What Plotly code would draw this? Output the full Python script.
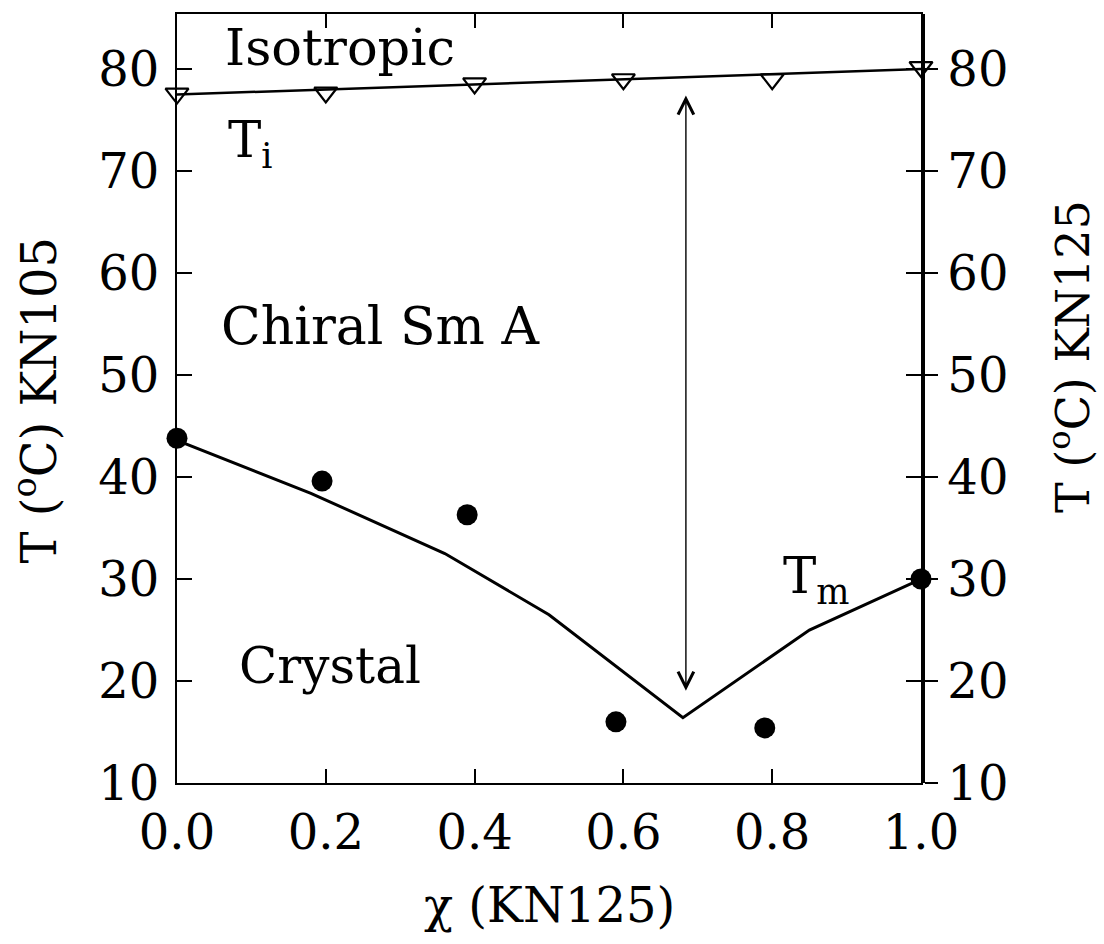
import plotly.graph_objects as go

# Composition axis (mole fraction of KN125) and tick labels
x_ticks = [0.0, 0.2, 0.4, 0.6, 0.8, 1.0]
x_tick_text = ["0.0", "0.2", "0.4", "0.6", "0.8", "1.0"]
y_ticks = [10, 20, 30, 40, 50, 60, 70, 80]
y_tick_text = ["10", "20", "30", "40", "50", "60", "70", "80"]

# Isotropic transition temperatures T_i (open triangles) and their line
x_ti = [0.0, 0.2, 0.4, 0.6, 0.8, 1.0]
t_ti = [77.6, 77.7, 78.6, 79.0, 79.0, 80.2]
x_ti_line = [0.0, 1.0]
t_ti_line = [77.5, 80.0]

# Melting temperatures T_m (filled circles) and the liquidus curve
x_tm = [0.0, 0.195, 0.39, 0.59, 0.79, 1.0]
t_tm = [43.8, 39.6, 36.3, 16.0, 15.4, 30.0]
x_tm_curve = [0.0, 0.18, 0.36, 0.50, 0.68, 0.85, 1.0]
t_tm_curve = [43.6, 38.4, 32.5, 26.5, 16.4, 25.0, 30.0]

# Double-headed arrow marking the eutectic composition range
arrow_x = 0.684
arrow_t = [18.9, 77.4]

Y_RANGE = [10, 85.4]
FONT = "DejaVu Serif"
INK = "black"

fig = go.Figure()

fig.add_trace(go.Scatter(
    x=x_ti_line, y=t_ti_line, mode="lines",
    line=dict(color=INK, width=2.5), yaxis="y2",
    cliponaxis=False, showlegend=False, hoverinfo="skip"))
fig.add_trace(go.Scatter(
    x=x_ti, y=t_ti, mode="markers",
    marker=dict(symbol="triangle-down-open", size=20, color=INK,
                line=dict(width=2.2, color=INK)),
    cliponaxis=False, showlegend=False))
fig.add_trace(go.Scatter(
    x=x_tm_curve, y=t_tm_curve, mode="lines",
    line=dict(color=INK, width=3),
    cliponaxis=False, showlegend=False, hoverinfo="skip"))
fig.add_trace(go.Scatter(
    x=x_tm, y=t_tm, mode="markers",
    marker=dict(symbol="circle", size=21, color=INK),
    cliponaxis=False, showlegend=False))

axis_common = dict(
    showgrid=False, zeroline=False, showline=True,
    linecolor=INK, tickcolor=INK, tickwidth=2,
    tickfont=dict(family=FONT, size=48, color=INK),
)

fig.update_layout(
    width=1104, height=944,
    margin=dict(l=177, r=183, t=12, b=161),
    paper_bgcolor="white", plot_bgcolor="white",
    font=dict(family=FONT, color=INK),
    xaxis=dict(
        range=[0, 1], tickvals=x_ticks, ticktext=x_tick_text,
        ticks="inside", ticklen=14, mirror="ticks", linewidth=2,
        ticklabelstandoff=6, **axis_common),
    yaxis=dict(
        range=Y_RANGE, tickvals=y_ticks, ticktext=y_tick_text,
        ticks="inside", ticklen=15, mirror="ticks", linewidth=2,
        ticklabelstandoff=6, **axis_common),
    yaxis2=dict(
        range=Y_RANGE, tickvals=y_ticks, ticktext=y_tick_text,
        overlaying="y", side="right", anchor="x",
        ticks="outside", ticklen=13, linewidth=3.5, **axis_common),
)

annotations = [
    # axis titles
    dict(text="χ (KN125)", x=0.5, y=-0.158, xref="paper", yref="paper",
         showarrow=False, font=dict(size=48), xanchor="center", yanchor="middle"),
    dict(text="T (<sup>o</sup>C) KN105", x=-0.19, y=0.497, xref="paper", yref="paper",
         showarrow=False, textangle=-90, font=dict(size=48),
         xanchor="center", yanchor="middle"),
    dict(text="T (<sup>o</sup>C) KN125", x=1.2, y=0.555, xref="paper", yref="paper",
         showarrow=False, textangle=-90, font=dict(size=46),
         xanchor="center", yanchor="middle"),
    # phase region labels
    dict(text="Isotropic", x=0.219, y=82.1, showarrow=False,
         font=dict(size=51), xanchor="center", yanchor="middle"),
    dict(text="T<sub>i</sub>", x=0.099, y=72.7, showarrow=False,
         font=dict(size=50), xanchor="center", yanchor="middle"),
    dict(text="Chiral Sm A", x=0.274, y=54.8, showarrow=False,
         font=dict(size=52), xanchor="center", yanchor="middle"),
    dict(text="Crystal", x=0.205, y=21.5, showarrow=False,
         font=dict(size=50), xanchor="center", yanchor="middle"),
    dict(text="T<sub>m</sub>", x=0.859, y=30.0, showarrow=False,
         font=dict(size=50), xanchor="center", yanchor="middle"),
    # vertical double arrow
    dict(x=arrow_x, y=arrow_t[1], ax=arrow_x, ay=arrow_t[0],
         xref="x", yref="y", axref="x", ayref="y",
         text="", showarrow=True, arrowside="end+start",
         arrowhead=5, startarrowhead=5, arrowsize=2.2, startarrowsize=2.2,
         arrowwidth=1.4, arrowcolor=INK),
]
fig.update_layout(annotations=annotations)

fig.write_html("out.html")
